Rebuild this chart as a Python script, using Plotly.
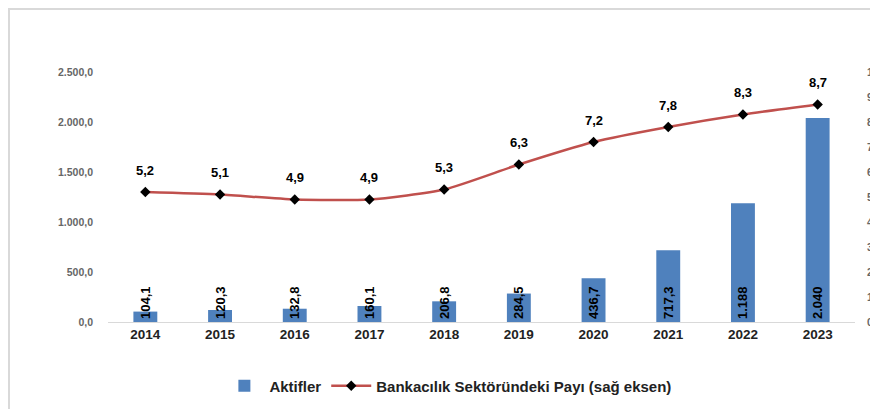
import plotly.graph_objects as go

# ---------------------------------------------------------------------------
# Data
# ---------------------------------------------------------------------------
years = [2014, 2015, 2016, 2017, 2018, 2019, 2020, 2021, 2022, 2023]
aktifler = [104.1, 120.3, 132.8, 160.1, 206.8, 284.5, 436.7, 717.3, 1188.0, 2040.0]
pay = [5.2, 5.1, 4.9, 4.9, 5.3, 6.3, 7.2, 7.8, 8.3, 8.7]

BLUE = "#4F81BD"
RED = "#C0504D"
FONT = "Liberation Sans"

# plot area size in px (used for the frame lines in paper coords)
PW, PH = 747, 250


def tr_num(v, decimals):
    """Turkish number format: '.' thousands, ',' decimals."""
    s = f"{v:,.{decimals}f}"
    return s.replace(",", "X").replace(".", ",").replace("X", ".")


bar_text = [tr_num(v, 0 if v >= 1000 else 1) for v in aktifler]

fig = go.Figure()

fig.add_trace(
    go.Bar(
        x=years, y=aktifler, name="Aktifler",
        marker=dict(color=BLUE, line=dict(width=0)),
        width=0.32,
        text=bar_text,
        textposition="inside",
        insidetextanchor="start",
        textangle=-90,
        constraintext="none",
        textfont=dict(family=FONT, size=13, color="black", weight="bold"),
    )
)

fig.add_trace(
    go.Scatter(
        x=years, y=pay, name="Bankacılık Sektöründeki Payı (sağ eksen)",
        yaxis="y2",
        mode="lines+markers",
        line=dict(color=RED, width=2.5, shape="spline", smoothing=0.6),
        marker=dict(symbol="diamond", size=8, color="black"),
    )
)

for x, v in zip(years, pay):
    fig.add_annotation(
        x=x, y=v, xref="x", yref="y2", text=tr_num(v, 1), showarrow=False,
        yshift=22, font=dict(family=FONT, size=13, color="black", weight="bold"),
    )

fig.update_layout(
    width=870, height=401,
    margin=dict(l=100, r=23, t=64, b=87, autoexpand=False),
    paper_bgcolor="white", plot_bgcolor="white",
    separators=",.",
    showlegend=True,
    legend=dict(
        orientation="h", x=0.455, xanchor="center", y=-0.19, yanchor="top",
        font=dict(family=FONT, size=15, color="#222", weight="bold"),
        itemwidth=40, tracegroupgap=0,
    ),
    xaxis=dict(
        type="linear", range=[2013.5, 2023.5], tickmode="array", tickvals=years,
        showgrid=False, showline=True, linecolor="#D9D9D9", linewidth=1,
        zeroline=False, ticks="",
        tickfont=dict(family=FONT, size=13.5, color="#222", weight="bold"),
    ),
    yaxis=dict(
        range=[0, 2500], dtick=500, tickformat=",.1f", showgrid=False,
        zeroline=False, ticks="", ticklabelstandoff=14,
        tickfont=dict(family=FONT, size=10.5, color="#666", weight="bold"),
    ),
    yaxis2=dict(
        range=[0, 10], dtick=1, overlaying="y", side="right", showgrid=False,
        zeroline=False, ticks="", ticklabelstandoff=11,
        tickfont=dict(family=FONT, size=10.5, color="#666", weight="bold"),
    ),
    shapes=[
        dict(type="line", xref="paper", yref="paper",
             x0=-99 / PW, x1=1 + 23 / PW, y0=1 + 63 / PH, y1=1 + 63 / PH,
             line=dict(color="#D9D9D9", width=2)),
        dict(type="line", xref="paper", yref="paper",
             x0=-99 / PW, x1=-99 / PW, y0=-87 / PH, y1=1 + 64 / PH,
             line=dict(color="#D9D9D9", width=2)),
    ],
)

fig.write_html("out.html")
